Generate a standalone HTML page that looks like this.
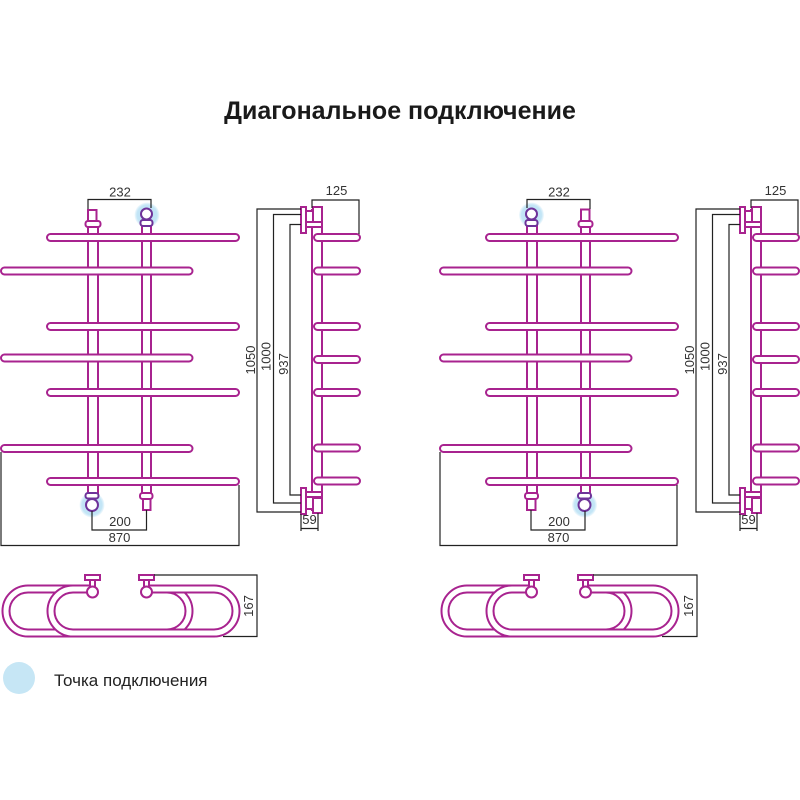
<!DOCTYPE html>
<html><head><meta charset="utf-8"><style>
html,body{margin:0;padding:0;background:#fff;}
svg{display:block;}
</style></head><body>
<svg width="800" height="800" viewBox="0 0 800 800" xmlns="http://www.w3.org/2000/svg" font-family="'Liberation Sans', Arial, sans-serif">
<defs>
<radialGradient id="hl"><stop offset="0" stop-color="#bde2f6"/><stop offset="0.8" stop-color="#c3e5f6"/><stop offset="1" stop-color="#c3e5f6" stop-opacity="0.2"/></radialGradient>
</defs>
<rect width="800" height="800" fill="#fff"/>
<text x="400" y="119" text-anchor="middle" font-size="25" font-weight="bold" fill="#1a1a1a">Диагональное подключение</text>

<!-- ================= LEFT DIAGRAM ================= -->
<g>
  <circle cx="147" cy="215" r="12.5" fill="url(#hl)"/>
  <circle cx="92" cy="505" r="12.5" fill="url(#hl)"/>
  <g fill="#fff" stroke="#a8238f" stroke-width="2">
    <rect x="88" y="226" width="10" height="268"/>
    <rect x="142" y="226" width="9" height="268"/>
    <rect x="47" y="234" width="192" height="7" rx="3.5"/>
    <rect x="1" y="267.5" width="191.5" height="7" rx="3.5"/>
    <rect x="47" y="323" width="192" height="7" rx="3.5"/>
    <rect x="1" y="354.5" width="191.5" height="7" rx="3.5"/>
    <rect x="47" y="389" width="192" height="7" rx="3.5"/>
    <rect x="1" y="445" width="191.5" height="7" rx="3.5"/>
    <rect x="47" y="478" width="192" height="7" rx="3.5"/>
    <rect x="88" y="210" width="8.5" height="11"/>
    <rect x="85.5" y="221" width="15" height="6" rx="2.5"/>
    <rect x="143" y="499" width="7.5" height="11"/>
    <rect x="140" y="493" width="12.5" height="6" rx="2.5"/>
  </g>
  <g fill="#fff" stroke="#6e3399" stroke-width="2">
    <rect x="140.5" y="220" width="12" height="6" rx="2.5"/>
    <circle cx="146.5" cy="214" r="5.5"/>
    <rect x="85.5" y="493" width="13" height="5.5" rx="2.5"/>
    <circle cx="92" cy="505" r="6"/>
  </g>
  <g fill="none" stroke="#222" stroke-width="1.2">
    <path d="M88,209 V199.5 H151 V208"/>
    <path d="M92,511 V530 H146.5 V510"/>
    <path d="M1,452 V545.5 H239 V485"/>
  </g>
  <g font-size="13" fill="#333" text-anchor="middle">
    <text x="120" y="196.5">232</text>
    <text x="120" y="526">200</text>
    <text x="119.5" y="542">870</text>
  </g>

  <g fill="#fff" stroke="#a8238f" stroke-width="2">
    <rect x="312" y="210" width="10" height="300"/>
    <rect x="314" y="234" width="46" height="7" rx="3.5"/>
    <rect x="314" y="267.5" width="46" height="7" rx="3.5"/>
    <rect x="314" y="323" width="46" height="7" rx="3.5"/>
    <rect x="314" y="356" width="46" height="7" rx="3.5"/>
    <rect x="314" y="389" width="46" height="7" rx="3.5"/>
    <rect x="314" y="444.5" width="46" height="7" rx="3.5"/>
    <rect x="314" y="477.5" width="46" height="7" rx="3.5"/>
    <rect x="301" y="207" width="5" height="26"/>
    <rect x="306" y="211" width="7" height="13"/>
    <rect x="313" y="207" width="9" height="15"/>
    <rect x="306" y="222" width="16" height="5"/>
    <rect x="301" y="488" width="5" height="26"/>
    <rect x="306" y="496" width="7" height="13"/>
    <rect x="313" y="498" width="9" height="15"/>
    <rect x="306" y="492" width="16" height="5"/>
  </g>
  <g fill="none" stroke="#222" stroke-width="1.2">
    <path d="M301,209 H257 V512 H301"/>
    <path d="M301,214.5 H273.5 V503 H301"/>
    <path d="M301,224.5 H290 V495 H301"/>
    <path d="M312,208 V200 H359 V234"/>
    <path d="M301,514 V531 M318,513 V531 M301,528.5 H318"/>
  </g>
  <g font-size="13" fill="#333" text-anchor="middle">
    <text x="336.5" y="195">125</text>
    <text x="309.5" y="524">59</text>
    <text transform="translate(255,360) rotate(-90)">1050</text>
    <text transform="translate(270.5,356.5) rotate(-90)">1000</text>
    <text transform="translate(288,364) rotate(-90)">937</text>
  </g>

  <g fill="none" stroke-linecap="butt">
    <path d="M146,589 H167 A22,22 0 0 1 167,633 H28 A22,22 0 0 1 28,589 H92" stroke="#a8238f" stroke-width="9"/>
    <path d="M146,589 H167 A22,22 0 0 1 167,633 H28 A22,22 0 0 1 28,589 H92" stroke="#fff" stroke-width="5"/>
    <path d="M92,589 H73 A22,22 0 0 0 73,633 H214 A22,22 0 0 0 214,589 H146" stroke="#a8238f" stroke-width="9"/>
    <path d="M92,589 H73 A22,22 0 0 0 73,633 H214 A22,22 0 0 0 214,589 H146" stroke="#fff" stroke-width="5"/>
  </g>
  <g fill="#fff" stroke="#a8238f" stroke-width="2">
    <rect x="85" y="575" width="15" height="5"/>
    <rect x="90" y="580" width="5" height="7"/>
    <circle cx="92.5" cy="592" r="5.5"/>
    <rect x="139" y="575" width="15" height="5"/>
    <rect x="144" y="580" width="5" height="7"/>
    <circle cx="146.5" cy="592" r="5.5"/>
  </g>
  <path d="M154,575 H257 V636.5 H223" fill="none" stroke="#222" stroke-width="1.2"/>
  <text transform="translate(253,606) rotate(-90)" font-size="13" fill="#333" text-anchor="middle">167</text>
</g>

<!-- ================= RIGHT DIAGRAM ================= -->
<g transform="translate(439,0)">
  <circle cx="92.5" cy="215" r="12.5" fill="url(#hl)"/>
  <circle cx="145.5" cy="505" r="12.5" fill="url(#hl)"/>
  <g fill="#fff" stroke="#a8238f" stroke-width="2">
    <rect x="88" y="226" width="10" height="268"/>
    <rect x="142" y="226" width="9" height="268"/>
    <rect x="47" y="234" width="192" height="7" rx="3.5"/>
    <rect x="1" y="267.5" width="191.5" height="7" rx="3.5"/>
    <rect x="47" y="323" width="192" height="7" rx="3.5"/>
    <rect x="1" y="354.5" width="191.5" height="7" rx="3.5"/>
    <rect x="47" y="389" width="192" height="7" rx="3.5"/>
    <rect x="1" y="445" width="191.5" height="7" rx="3.5"/>
    <rect x="47" y="478" width="192" height="7" rx="3.5"/>
    <rect x="142" y="209.5" width="8.5" height="11.5"/>
    <rect x="139.5" y="221" width="14" height="6" rx="2.5"/>
    <rect x="88" y="499" width="8.5" height="11"/>
    <rect x="86" y="493" width="13" height="6" rx="2.5"/>
  </g>
  <g fill="#fff" stroke="#6e3399" stroke-width="2">
    <rect x="86.5" y="220" width="12" height="6" rx="2.5"/>
    <circle cx="92.5" cy="214" r="5.5"/>
    <rect x="139" y="493" width="13" height="5.5" rx="2.5"/>
    <circle cx="145.5" cy="505" r="6"/>
  </g>
  <g fill="none" stroke="#222" stroke-width="1.2">
    <path d="M88,208 V199.5 H151 V209"/>
    <path d="M92,510 V530 H146 V511"/>
    <path d="M1,452 V545.5 H238 V485"/>
  </g>
  <g font-size="13" fill="#333" text-anchor="middle">
    <text x="120" y="196.5">232</text>
    <text x="120" y="526">200</text>
    <text x="119.5" y="542">870</text>
  </g>

  <g fill="#fff" stroke="#a8238f" stroke-width="2">
    <rect x="312" y="210" width="10" height="300"/>
    <rect x="314" y="234" width="46" height="7" rx="3.5"/>
    <rect x="314" y="267.5" width="46" height="7" rx="3.5"/>
    <rect x="314" y="323" width="46" height="7" rx="3.5"/>
    <rect x="314" y="356" width="46" height="7" rx="3.5"/>
    <rect x="314" y="389" width="46" height="7" rx="3.5"/>
    <rect x="314" y="444.5" width="46" height="7" rx="3.5"/>
    <rect x="314" y="477.5" width="46" height="7" rx="3.5"/>
    <rect x="301" y="207" width="5" height="26"/>
    <rect x="306" y="211" width="7" height="13"/>
    <rect x="313" y="207" width="9" height="15"/>
    <rect x="306" y="222" width="16" height="5"/>
    <rect x="301" y="488" width="5" height="26"/>
    <rect x="306" y="496" width="7" height="13"/>
    <rect x="313" y="498" width="9" height="15"/>
    <rect x="306" y="492" width="16" height="5"/>
  </g>
  <g fill="none" stroke="#222" stroke-width="1.2">
    <path d="M301,209 H257 V512 H301"/>
    <path d="M301,214.5 H273.5 V503 H301"/>
    <path d="M301,224.5 H290 V495 H301"/>
    <path d="M312,208 V200 H359 V234"/>
    <path d="M301,514 V531 M318,513 V531 M301,528.5 H318"/>
  </g>
  <g font-size="13" fill="#333" text-anchor="middle">
    <text x="336.5" y="195">125</text>
    <text x="309.5" y="524">59</text>
    <text transform="translate(255,360) rotate(-90)">1050</text>
    <text transform="translate(270.5,356.5) rotate(-90)">1000</text>
    <text transform="translate(288,364) rotate(-90)">937</text>
  </g>

  <g fill="none" stroke-linecap="butt">
    <path d="M146,589 H167 A22,22 0 0 1 167,633 H28 A22,22 0 0 1 28,589 H92" stroke="#a8238f" stroke-width="9"/>
    <path d="M146,589 H167 A22,22 0 0 1 167,633 H28 A22,22 0 0 1 28,589 H92" stroke="#fff" stroke-width="5"/>
    <path d="M92,589 H73 A22,22 0 0 0 73,633 H214 A22,22 0 0 0 214,589 H146" stroke="#a8238f" stroke-width="9"/>
    <path d="M92,589 H73 A22,22 0 0 0 73,633 H214 A22,22 0 0 0 214,589 H146" stroke="#fff" stroke-width="5"/>
  </g>
  <g fill="#fff" stroke="#a8238f" stroke-width="2">
    <rect x="85" y="575" width="15" height="5"/>
    <rect x="90" y="580" width="5" height="7"/>
    <circle cx="92.5" cy="592" r="5.5"/>
    <rect x="139" y="575" width="15" height="5"/>
    <rect x="144" y="580" width="5" height="7"/>
    <circle cx="146.5" cy="592" r="5.5"/>
  </g>
  <path d="M154,575 H258 V636.5 H223" fill="none" stroke="#222" stroke-width="1.2"/>
  <text transform="translate(254,606) rotate(-90)" font-size="13" fill="#333" text-anchor="middle">167</text>
</g>

<circle cx="19" cy="678" r="16" fill="#c6e6f5"/>
<text x="54" y="686" font-size="17" fill="#222">Точка подключения</text>
</svg>
</body></html>
